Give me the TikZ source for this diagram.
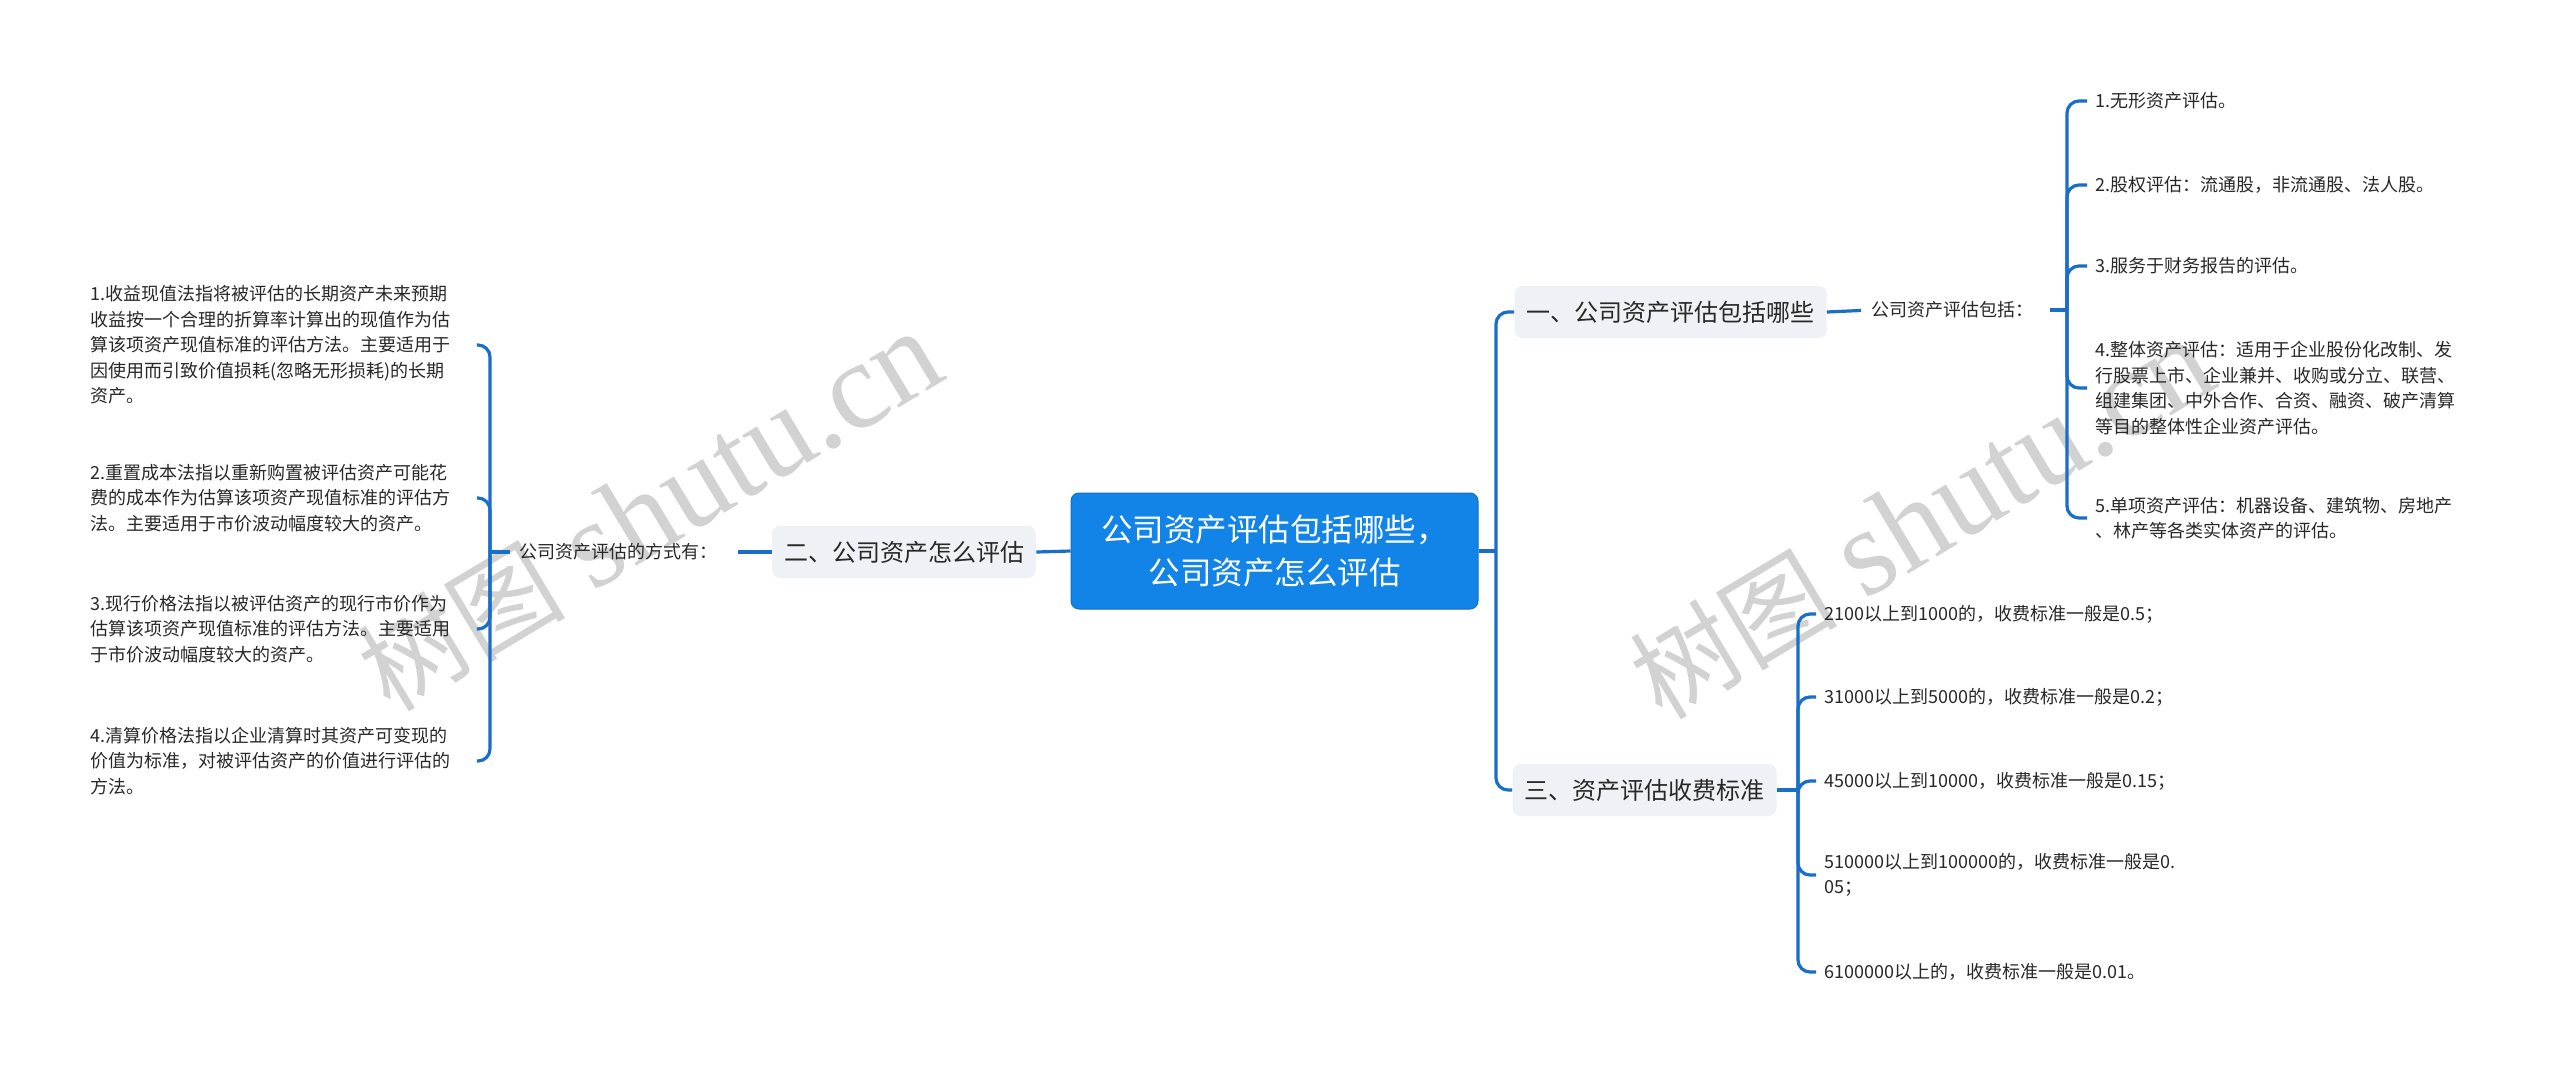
\documentclass[tikz,border=0pt]{standalone}
\usepackage{fontspec}
\setmainfont{Noto Sans CJK SC}
\newfontfamily\wmserif{Liberation Serif}
\newfontfamily\wmcjk{Noto Sans CJK SC}
\definecolor{lineblue}{RGB}{26,110,200}
\definecolor{rootblue}{RGB}{18,132,232}
\definecolor{branchgray}{RGB}{238,241,245}
\definecolor{txt}{RGB}{40,40,40}
\definecolor{wmgray}{RGB}{210,210,210}
\newcommand{\wmtext}{\wmcjk\fontsize{52}{52}\selectfont 树图\hspace{14pt}\wmserif\fontsize{62}{62}\selectfont shutu.cn}
\begin{document}
\begin{tikzpicture}[x=0.5pt,y=-0.5pt,
 conn/.style={draw=lineblue,line width=1.6pt,rounded corners=6pt},
 rootbox/.style={fill=rootblue,draw=rootblue!85!black,line width=0.5pt,rounded corners=4pt,text=white,font=\fontsize{15.75}{21.5}\selectfont,align=center,minimum width=203.5pt,minimum height=58pt,inner sep=0pt},
 branchbox/.style={fill=branchgray,rounded corners=4pt,text=txt,font=\fontsize{12}{14}\selectfont,inner xsep=6pt,inner ysep=0pt,minimum height=26pt},
 leaf/.style={text=txt,font=\fontsize{9}{12.75}\selectfont,align=left,inner sep=0pt},
 leftleaf/.style={leaf,text width=193pt},
 lbl/.style={text=txt,font=\fontsize{9}{12}\selectfont,inner sep=0pt},
 wm/.style={text=wmgray,rotate=31,inner sep=0pt}
]
\useasboundingbox (0,0) rectangle (2560,1073);
\fill[white] (0,0) rectangle (2560,1073);

% watermarks
\node[wm] (wm1) at (650,512) {\wmtext};
\node[wm] (wm2) at (1922,520) {\wmtext};

% root and branches
\node[rootbox] (root) at (1274.5,551) {公司资产评估包括哪些，\\公司资产怎么评估};
\node[branchbox] (b1) at (1670.5,312) {一、公司资产评估包括哪些};
\node[branchbox] (b2) at (904,552) {二、公司资产怎么评估};
\node[branchbox] (b3) at (1644.5,790) {三、资产评估收费标准};

% labels
\node[lbl,anchor=west] (lab1) at (1871,310) {公司资产评估包括：};
\node[lbl,anchor=west] (lab2) at (519,552) {公司资产评估的方式有：};

% right leaves of branch 1
\node[leaf,anchor=west] (r1) at (2095,101) {1.无形资产评估。};
\node[leaf,anchor=west] (r2) at (2095,185) {2.股权评估：流通股，非流通股、法人股。};
\node[leaf,anchor=west] (r3) at (2095,266) {3.服务于财务报告的评估。};
\node[leaf,anchor=west] (r4) at (2095,388) {4.整体资产评估：适用于企业股份化改制、发\\行股票上市、企业兼并、收购或分立、联营、\\组建集团、中外合作、合资、融资、破产清算\\等目的整体性企业资产评估。};
\node[leaf,anchor=west] (r5) at (2095,518) {5.单项资产评估：机器设备、建筑物、房地产\\、林产等各类实体资产的评估。};

% leaves of branch 3
\node[leaf,anchor=west] (f1) at (1824,614) {2100以上到1000的，收费标准一般是0.5；};
\node[leaf,anchor=west] (f2) at (1824,697) {31000以上到5000的，收费标准一般是0.2；};
\node[leaf,anchor=west] (f3) at (1824,781) {45000以上到10000，收费标准一般是0.15；};
\node[leaf,anchor=west] (f4) at (1824,875) {510000以上到100000的，收费标准一般是0.\\05；};
\node[leaf,anchor=west] (f5) at (1824,972) {6100000以上的，收费标准一般是0.01。};

% left leaves of branch 2
\node[leftleaf,anchor=west] (l1) at (90,345) {1.收益现值法指将被评估的长期资产未来预期\\收益按一个合理的折算率计算出的现值作为估\\算该项资产现值标准的评估方法。主要适用于\\因使用而引致价值损耗(忽略无形损耗)的长期\\资产。};
\node[leftleaf,anchor=west] (l2) at (90,498) {2.重置成本法指以重新购置被评估资产可能花\\费的成本作为估算该项资产现值标准的评估方\\法。主要适用于市价波动幅度较大的资产。};
\node[leftleaf,anchor=west] (l3) at (90,629) {3.现行价格法指以被评估资产的现行市价作为\\估算该项资产现值标准的评估方法。主要适用\\于市价波动幅度较大的资产。};
\node[leftleaf,anchor=west] (l4) at (90,761) {4.清算价格法指以企业清算时其资产可变现的\\价值为标准，对被评估资产的价值进行评估的\\方法。};

% hubs
\coordinate (hubA) at (1496,551);
\coordinate (hubB) at (2067,310);
\coordinate (hubC) at (1798,790);
\coordinate (hubL) at (490,552);

% connectors
\draw[conn] (root.east) -- (hubA);
\draw[conn] (hubA) |- (b1.west);
\draw[conn] (hubA) |- (b3.west);
\draw[conn] (root.west) -- (b2.east);

\draw[conn,shorten >=5pt] (b1.east) -- (lab1.west);
\draw[conn,shorten <=8pt] (lab1.east) -- (hubB);
\foreach \n in {r1,r2,r3,r4,r5} \draw[conn,shorten >=4pt] (hubB) |- (\n.west);

\draw[conn] (b3.east) -- (hubC);
\foreach \n in {f1,f2,f3,f4,f5} \draw[conn,shorten >=4pt] (hubC) |- (\n.west);

\draw[conn,shorten <=10pt] (lab2.east) -- (b2.west);
\draw[conn,shorten <=4.5pt] (lab2.west) -- (hubL);
\foreach \n in {l1,l2,l3,l4} \draw[conn] (hubL) |- (\n.east);
\end{tikzpicture}
\end{document}
